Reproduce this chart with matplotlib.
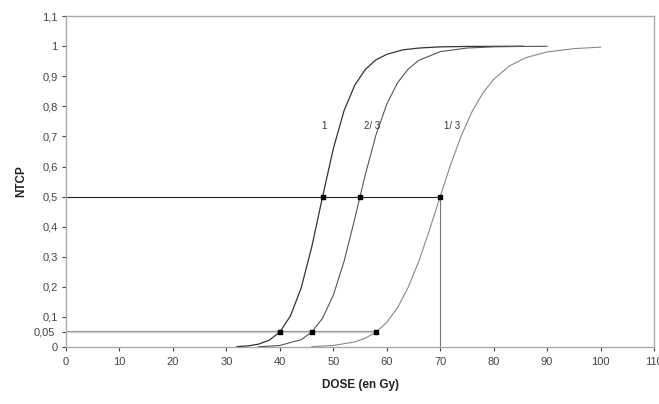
import matplotlib
matplotlib.use("Agg")
import matplotlib.pyplot as plt

plt.rcParams['font.family'] = ['Liberation Sans', 'DejaVu Sans']

# Curve "1"
dose_1 = [32, 34, 36, 38, 40, 42, 44, 46, 48, 50, 52, 54, 56, 58, 60, 63, 66, 70, 75, 80, 85.5]
ntcp_1 = [0.0014, 0.0038, 0.0095, 0.0225, 0.05, 0.104, 0.197, 0.335, 0.5, 0.659, 0.785, 0.870,
          0.923, 0.955, 0.973, 0.988, 0.994, 0.998, 0.9993, 0.9997, 1.0]
# Curve "2/3"
dose_23 = [36, 40, 44, 46, 48, 50, 52, 54, 55, 56, 58, 60, 62, 64, 66, 70, 75, 80, 85, 90]
ntcp_23 = [0.0009, 0.0052, 0.0247, 0.05, 0.096, 0.172, 0.284, 0.425, 0.5, 0.574, 0.706, 0.807,
           0.878, 0.924, 0.953, 0.982, 0.994, 0.998, 0.9992, 0.9997]
# Curve "1/3"
dose_13 = [46, 50, 54, 56, 58, 60, 62, 64, 66, 68, 70, 72, 74, 76, 78, 80, 83, 86, 90, 95, 100]
ntcp_13 = [0.0014, 0.0051, 0.0169, 0.0295, 0.05, 0.082, 0.130, 0.198, 0.285, 0.389, 0.5, 0.609,
           0.705, 0.784, 0.845, 0.890, 0.935, 0.962, 0.981, 0.992, 0.997]

curve_labels = ["1", "2/ 3", "1/ 3"]
label_x = [48.3, 57.3, 72.3]
label_y = [0.735, 0.735, 0.735]

td50 = [48, 55, 70]
td5 = [40, 46, 58]

x_ticks = list(range(0, 111, 10))
y_ticks = [0, 0.05, 0.1, 0.2, 0.3, 0.4, 0.5, 0.6, 0.7, 0.8, 0.9, 1.0, 1.1]
y_tick_labels = ["0", "0,05", "0,1", "0,2", "0,3", "0,4", "0,5", "0,6", "0,7", "0,8", "0,9", "1", "1,1"]

fig = plt.figure(figsize=(6.59, 4.04), dpi=100)
ax = fig.add_axes([0.1002, 0.141, 0.8922, 0.819])

ax.set_xlim(0, 110)
ax.set_ylim(0, 1.1)

# reference lines
ax.plot([0, td50[2]], [0.5, 0.5], color='#222222', lw=0.8, zorder=2)
ax.plot([td50[2], td50[2]], [0, 0.5], color='#777777', lw=0.8, zorder=2)
ax.plot([0, td5[2]], [0.05, 0.05], color='#999999', lw=1.6, zorder=2)
ax.plot([0, td5[2]], [0.05, 0.05], color='#dddddd', lw=0.6, zorder=2)

ax.plot(dose_1, ntcp_1, color='#333333', lw=0.9, zorder=3)
ax.plot(dose_23, ntcp_23, color='#555555', lw=0.8, zorder=3)
ax.plot(dose_13, ntcp_13, color='#888888', lw=0.8, zorder=3)

ax.scatter(td50, [0.5] * 3, marker='s', s=9, color='black', zorder=4)
ax.scatter(td5, [0.05] * 3, marker='s', s=9, color='black', zorder=4)

for t, lx, ly in zip(curve_labels, label_x, label_y):
    ax.text(lx, ly, t, fontsize=7, color='#333333', ha='center', va='center')

ax.set_xticks(x_ticks)
ax.set_xticklabels([str(v) for v in x_ticks])
ax.set_yticks(y_ticks)
ax.set_yticklabels(y_tick_labels)
ax.tick_params(axis='both', labelsize=8, colors='#444444', length=3, width=0.8, direction='out', pad=4)
ax.tick_params(axis='y', pad=3)
for lbl in ax.get_yticklabels():
    if lbl.get_text() == "0,05":
        lbl.set_x(-0.005)

for s in ax.spines.values():
    s.set_color('#aaaaaa')
    s.set_linewidth(1.0)

ax.set_xlabel("DOSE (en Gy)", fontsize=8.5, fontweight='bold', color='#222222', labelpad=9)
ax.set_ylabel("NTCP", fontsize=8.5, fontweight='bold', color='#222222')
ax.yaxis.set_label_coords(-0.066, 0.5)

fig.savefig("out.png", dpi=100)
